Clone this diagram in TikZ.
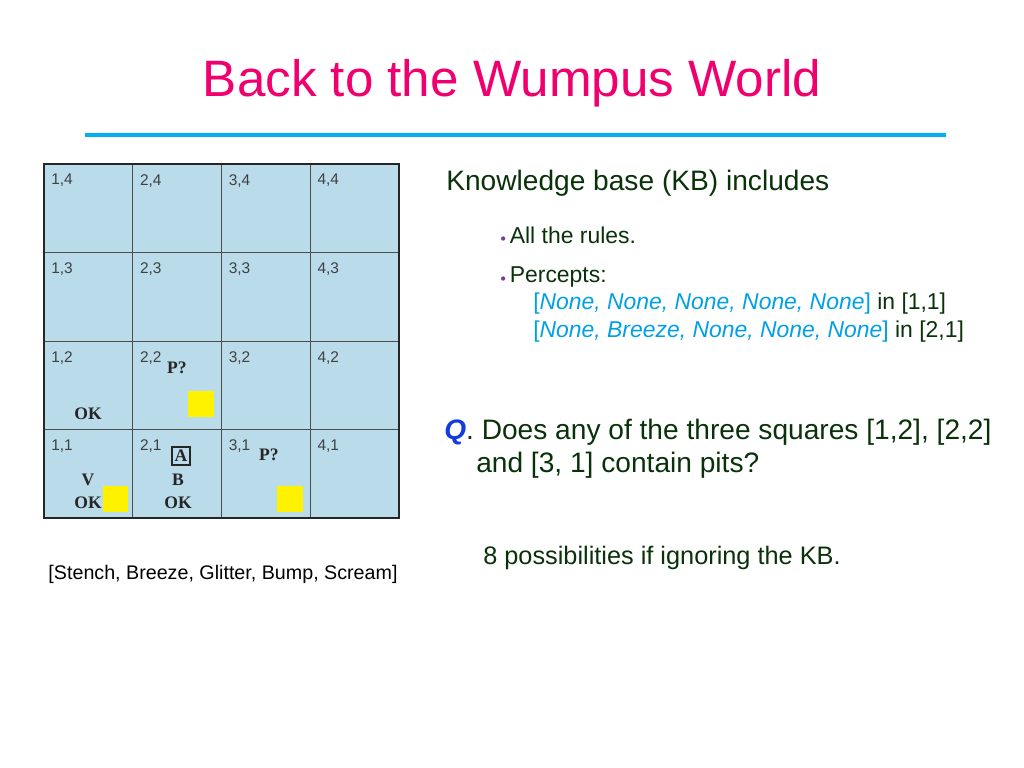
\documentclass[tikz,border=0pt]{standalone}
\usepackage{fontspec}
\setmainfont{Liberation Sans}
\newfontfamily\boardserif{Liberation Serif}
\usepackage{tikz}
\usetikzlibrary{positioning,calc}
\definecolor{titlepink}{RGB}{240,0,110}
\definecolor{rulecyan}{RGB}{0,176,240}
\definecolor{boardblue}{RGB}{186,219,234}
\definecolor{textgreen}{RGB}{10,50,10}
\definecolor{perceptblue}{RGB}{0,160,230}
\definecolor{qblue}{RGB}{20,60,220}
\definecolor{bulletpurple}{RGB}{120,60,160}
\tikzset{
    cellnum/.style={anchor=north west, inner sep=0pt, font=\fontsize{11}{13}\selectfont, text=black!75},
    boardmark/.style={inner sep=0pt, font=\boardserif\bfseries\fontsize{12.5}{14}\selectfont, text=black!85},
    pit/.style={fill=yellow, draw=none},
    body/.style={anchor=west, inner sep=0pt, text=textgreen, align=left}
}
\newcommand{\purplebullet}{\textcolor{bulletpurple}{\raisebox{0.1ex}{\scriptsize$\bullet$}}\,}
\begin{document}
\begin{tikzpicture}[x=0.025cm, y=-0.025cm]
    \fill[white] (0,0) rectangle (1024,768);
    \useasboundingbox (0,0) rectangle (1024,768);

    % Title
    \node[text=titlepink, font=\fontsize{36.4}{40}\selectfont, inner sep=0pt] (title) at (512,83) {Back to the Wumpus World};
    \draw[rulecyan, line width=3.5pt] (85,135) -- (946,135);

    % Board
    \fill[boardblue] (44,164) rectangle (399,518);
    \foreach \i in {1,2,3} {
        \draw[black!70, line width=0.5pt] ({44+\i*88.75},164) -- ({44+\i*88.75},518);
        \draw[black!70, line width=0.5pt] (44,{164+\i*88.5}) -- (399,{164+\i*88.5});
    }
    \draw[black!85, line width=2pt] (44,164) rectangle (399,518);
    \foreach \c in {1,...,4} {
        \foreach \r in {1,...,4} {
            \node[cellnum] (cell\c\r) at ({44+(\c-1)*88.75+7},{164+(4-\r)*88.5+10}) {\c,\r};
        }
    }

    % Cell contents
    \node[boardmark] (ok12) at (88,414) {OK};
    \node[boardmark] (pit22) at (177,368) {P?};
    \node[boardmark] (v11) at (88,480) {V};
    \node[boardmark] (ok11) at (88,503) {OK};
    \node[boardmark, draw=black!85, line width=1.5pt, inner sep=2pt] (agent) at (181,456) {A};
    \node[boardmark] (b21) at (178,480) {B};
    \node[boardmark] (ok21) at (178,503) {OK};
    \node[boardmark] (pit31) at (269,455) {P?};
    \fill[pit] (188,391) rectangle (214,417);
    \fill[pit] (103,486) rectangle (128,512);
    \fill[pit] (277,486) rectangle (303,512);

    \node[inner sep=0pt, font=\fontsize{14}{16}\selectfont] (legend) at (223,574) {[Stench, Breeze, Glitter, Bump, Scream]};

    % Knowledge base
    \node[body, font=\fontsize{20}{24}\selectfont] (kb) at (446,183) {Knowledge base (KB) includes};
    \node[body, font=\fontsize{16.3}{19}\selectfont] (rules) at (500,235) {\purplebullet All the rules.};
    \node[body, font=\fontsize{16.3}{19}\selectfont] (percepts) at (500,277) {\purplebullet Percepts:};
    \node[body, font=\fontsize{16.3}{19}\selectfont] (p11) at (533,304) {\textcolor{perceptblue}{[\textit{None, None, None, None, None}]} in [1,1]};
    \node[body, font=\fontsize{16.3}{19}\selectfont] (p21) at (533,332) {\textcolor{perceptblue}{[\textit{None, Breeze, None, None, None}]} in [2,1]};

    % Question
    \node[body, font=\fontsize{20}{24}\selectfont] (q1) at (444,432) {\textcolor{qblue}{\textbf{\textit{Q}}}. Does any of the three squares [1,2], [2,2]};
    \node[body, font=\fontsize{20}{24}\selectfont] (q2) at (476,465) {and [3, 1] contain pits?};
    \node[body, font=\fontsize{18}{21}\selectfont] (poss) at (483,558) {8 possibilities if ignoring the KB.};
\end{tikzpicture}
\end{document}
